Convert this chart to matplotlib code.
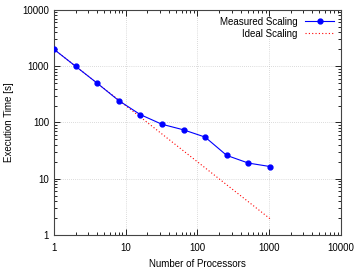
import numpy as np
import matplotlib
matplotlib.use("Agg")
import matplotlib.pyplot as plt

procs = [1, 2, 4, 8, 16, 32, 64, 128, 256, 512, 1024]
measured = [2000, 1000, 500, 245, 138, 93, 74, 55, 26, 19, 16.5]
ideal = [2000.0 / p for p in procs]

plt.rcParams['font.family'] = ['Liberation Sans', 'DejaVu Sans']
plt.rcParams['font.size'] = 7

fig = plt.figure(figsize=(3.57, 2.68), dpi=100)
ax = fig.add_axes([0.151, 0.123, 0.804, 0.840])

ax.plot(procs, measured, color='#0000ff', lw=0.8, marker='o', ms=3.5,
        label='Measured Scaling', zorder=3)
ax.plot(procs, ideal, color='#ff0000', lw=0.8, ls=(0, (1, 2)),
        label='Ideal Scaling', zorder=2)

ax.set_xscale('log')
ax.set_yscale('log')
ax.set_xlim(1, 10000)
ax.set_ylim(1, 10000)
ax.set_xticks([1, 10, 100, 1000, 10000])
ax.set_xticklabels(['1', '10', '100', '1000', '10000'])
ax.set_yticks([1, 10, 100, 1000, 10000])
ax.set_yticklabels(['1', '10', '100', '1000', '10000'])
ax.tick_params(which='both', direction='in', top=True, right=True, width=0.6)
ax.tick_params(which='major', length=4)
ax.tick_params(which='minor', length=2)
ax.tick_params(axis='x', pad=6)
ax.grid(True, which='major', color='#bbbbbb', ls=(0, (1, 2)), lw=0.5)
for s in ax.spines.values():
    s.set_linewidth(0.8)
    s.set_color('#444444')

ax.set_xlabel('Number of Processors', labelpad=4)
ax.set_ylabel('Execution Time [s]', labelpad=6)
ax.legend(loc='upper right', frameon=False, markerfirst=False,
          handlelength=3, borderaxespad=0.3, labelspacing=0.2)

fig.savefig('out.png', dpi=100)
